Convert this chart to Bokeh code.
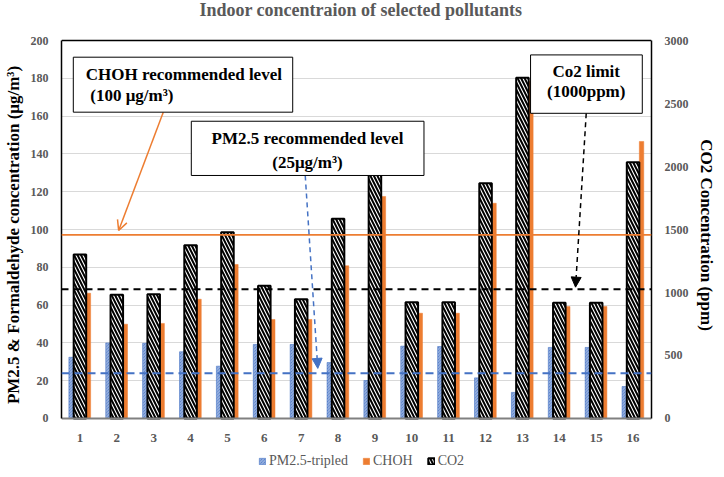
from bokeh.plotting import figure
from bokeh.models import (Range1d, LinearAxis, SingleIntervalTicker, FixedTicker,
                          Span, BoxAnnotation, Label, Arrow, NormalHead, OpenHead,
                          Legend, LegendItem)
from bokeh.embed import file_html
from bokeh.resources import INLINE

# data
sites = list(range(1, 17))
pm25_tripled = [32.4, 40.0, 39.8, 35.3, 27.7, 39.2, 39.2, 29.6,
                20.1, 38.3, 38.1, 21.5, 13.8, 37.6, 37.6, 16.9]
choh = [66.3, 49.9, 50.3, 63.1, 81.5, 52.4, 52.4, 80.8,
        117.5, 55.7, 55.7, 113.9, 178.5, 59.3, 59.3, 146.6]
co2 = [1302, 982, 987, 1376, 1479, 1053, 947, 1585,
       2150, 923, 923, 1868, 2704, 918, 918, 2034]

# reference levels (as drawn, left-axis units)
choh_level = 97.2
pm25_level = 24.0
co2_level_left = 68.4

FONT = "Liberation Serif"
GREY = "#595959"
BLUE = "#4472C4"
ORANGE = "#ED7D31"

# the frame is stretched above and below the 0..200 band so that the
# title and the legend can live inside it; axes are bounded to 0..200
y_lo, y_hi = -27.0, 221.2
co2_scale = 15

p = figure(frame_width=590, frame_height=469,
           min_border_left=55, min_border_right=63,
           min_border_top=0, min_border_bottom=0,
           x_range=Range1d(0.5, 16.5), y_range=Range1d(y_lo, y_hi),
           output_backend="svg", toolbar_location=None)
p.extra_y_ranges = {"co2": Range1d(y_lo * co2_scale, y_hi * co2_scale)}

p.outline_line_color = None
p.xgrid.grid_line_color = None
p.ygrid.grid_line_color = "#D9D9D9"
p.ygrid.ticker = SingleIntervalTicker(interval=20)
p.ygrid.bounds = (0, 200)

# left axis
p.yaxis.ticker = SingleIntervalTicker(interval=20)
p.yaxis.bounds = (0, 200)
p.yaxis.axis_label = "PM2.5 & Formaldehyde concentration (μg/m³)"

# right axis for CO2
right = LinearAxis(y_range_name="co2", ticker=SingleIntervalTicker(interval=500),
                   bounds=(0, 3000), axis_label="CO2 Concentration (ppm)")
p.add_layout(right, "right")

for ax in [p.yaxis[0], right]:
    ax.axis_line_color = "black"
    ax.axis_line_width = 1.5
    ax.major_tick_line_color = None
    ax.minor_tick_line_color = None
    ax.major_label_text_font = FONT
    ax.major_label_text_font_style = "bold"
    ax.major_label_text_font_size = "12px"
    ax.major_label_text_color = GREY
    ax.major_label_standoff = 7
    ax.axis_label_text_font = FONT
    ax.axis_label_text_font_style = "bold"
    ax.axis_label_text_font_size = "17px"
    ax.axis_label_text_color = "black"
    ax.axis_label_standoff = 5

p.xaxis.ticker = FixedTicker(ticks=sites)
p.xaxis.fixed_location = 0
p.xaxis.axis_line_color = "#808080"
p.xaxis.axis_line_width = 2
p.xaxis.major_tick_line_color = None
p.xaxis.minor_tick_line_color = None
p.xaxis.major_label_text_font = FONT
p.xaxis.major_label_text_font_style = "bold"
p.xaxis.major_label_text_font_size = "13px"
p.xaxis.major_label_text_color = GREY
p.xaxis.major_label_standoff = 10

# top edge of the plot box
p.add_layout(Span(location=200, dimension="width", line_color="black",
                  line_width=1.5))

x_pm = [s - 0.23 for s in sites]
x_ch = [s + 0.23 for s in sites]

r_pm = p.vbar(x=x_pm, top=pm25_tripled, width=0.14, fill_color=BLUE,
              line_color=BLUE, line_width=0.5, hatch_pattern="\\",
              hatch_color="white", hatch_scale=3, hatch_weight=0.6,
              hatch_alpha=0.9)
r_ch = p.vbar(x=x_ch, top=choh, width=0.12, fill_color=ORANGE,
              line_color=ORANGE, line_width=0.5)
r_co = p.vbar(x=sites, top=co2, width=0.34, y_range_name="co2",
              fill_color="white", line_color="black", line_width=2,
              hatch_pattern="\\", hatch_color="black", hatch_scale=7,
              hatch_weight=2)

# reference lines
p.add_layout(Span(location=choh_level, dimension="width",
                  line_color=ORANGE, line_width=1.8))
p.add_layout(Span(location=co2_level_left, dimension="width",
                  line_color="black", line_width=2, line_dash="7 5"))
p.add_layout(Span(location=pm25_level, dimension="width",
                  line_color=BLUE, line_width=2, line_dash="8 5"))

# arrows
p.add_layout(Arrow(x_start=3.26, y_start=162.1, x_end=2.05, y_end=99.5,
                   line_color=ORANGE, line_width=1.5,
                   end=OpenHead(size=10, line_color=ORANGE, line_width=1.5)))
p.add_layout(Arrow(x_start=7.11, y_start=128.6, x_end=7.45, y_end=26.5,
                   line_color=BLUE, line_width=1.5, line_dash="5 4",
                   end=NormalHead(size=10, fill_color=BLUE, line_color=BLUE)))
p.add_layout(Arrow(x_start=14.73, y_start=161.5, x_end=14.44, y_end=69.5,
                   line_color="black", line_width=1.5, line_dash="5 4",
                   end=NormalHead(size=10, fill_color="black", line_color="black")))

# callout boxes
for l, r, t, b in [(0.82, 6.77, 191.2, 162.1), (4.02, 10.33, 157.3, 128.6),
                   (13.22, 16.25, 192.4, 161.5)]:
    p.add_layout(BoxAnnotation(left=l, right=r, top=t, bottom=b,
                               fill_color="white", fill_alpha=1,
                               line_color="black", line_width=1, line_alpha=1,
                               level="annotation"))

def note(x, y, text, align="center", size="17px", color="black"):
    p.add_layout(Label(x=x, y=y, text=text, text_align=align,
                       text_baseline="middle", text_font=FONT,
                       text_font_style="bold", text_font_size=size,
                       text_color=color))

note(8.62, 216.4, "Indoor concentraion of selected pollutants", size="18px",
     color=GREY)
note(1.16, 182.0, "CHOH recommended level", "left")
note(1.28, 170.9, "(100 μg/m³)", "left")
note(7.17, 148.1, "PM2.5 recommended level")
note(7.17, 135.6, "(25μg/m³)")
note(14.73, 183.8, "Co2 limit")
note(14.73, 173.0, "(1000ppm)")

legend = Legend(items=[LegendItem(label="PM2.5-tripled", renderers=[r_pm]),
                       LegendItem(label="CHOH", renderers=[r_ch]),
                       LegendItem(label="CO2", renderers=[r_co])],
                orientation="horizontal", location=(197, 0),
                border_line_color=None, background_fill_alpha=0,
                glyph_width=8, glyph_height=8, label_standoff=3,
                label_height=14, spacing=14, padding=0, margin=0,
                label_text_font=FONT, label_text_font_size="14px",
                label_text_color=GREY)
p.add_layout(legend)

open("out.html", "w").write(file_html(p, INLINE))
